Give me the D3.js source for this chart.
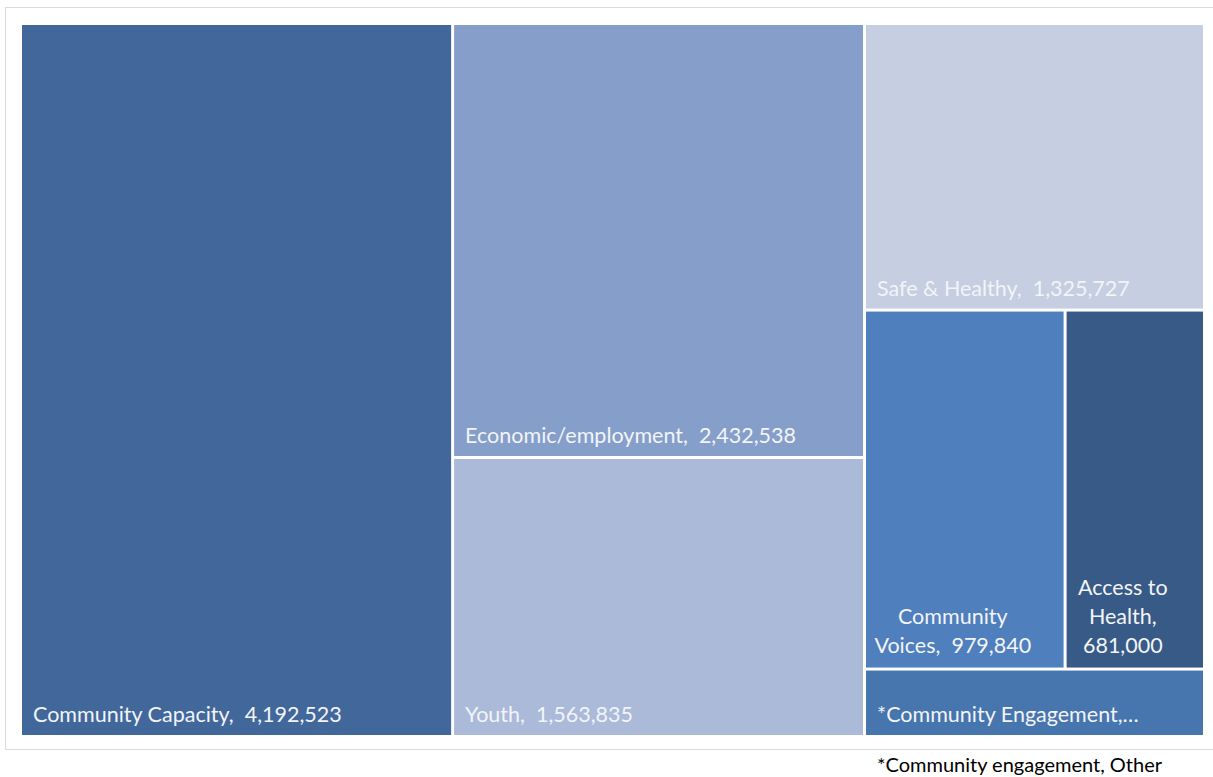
<!DOCTYPE html>
<meta charset="utf-8">
<head>
  <title>Funding treemap</title>
</head>

<style>
body { margin: 0; background: #fff; }
text {
  font-family: Lato, "Open Sans", sans-serif;
  font-size: 21.5px;
  white-space: pre;
}
.tile-label { fill: #f2f4f8; }
.note { fill: #000; font-size: 20px; }
</style>

<body>
  <svg width="1213" height="777">
    <rect class="frame" x="5.5" y="7.5" width="1220" height="742" fill="#fff" stroke="#dcdcdc"></rect>
    <g class="tiles"></g>
    <text class="note" x="877" y="772">*Community engagement, Other</text>
  </svg>

  <script src="https://cdnjs.cloudflare.com/ajax/libs/d3/7.8.5/d3.min.js"></script>
  <script>

  // categories and values (value for *Community Engagement is not printed, estimated from tile area)
  var ids     = ["root", "Community Capacity", "col2", "Economic/employment", "Youth",
                 "col3", "Safe & Healthy", "col3b", "Community Voices", "Access to Health",
                 "*Community Engagement"];
  var parents = ["", "root", "root", "col2", "col2",
                 "root", "col3", "col3", "col3b", "col3b",
                 "col3"];
  var values  = [0, 4192523, 0, 2432538, 1563835,
                 0, 1325727, 0, 979840, 681000,
                 312000];
  var colors  = {
    "Community Capacity": "#41679b",
    "Economic/employment": "#869fca",
    "Youth": "#abbad9",
    "Safe & Healthy": "#c6cee1",
    "Community Voices": "#4f7fbd",
    "Access to Health": "#385a86",
    "*Community Engagement": "#4775ae"
  };

  var rows = ids.map(function(id, i) { return {id: id, parent: parents[i], value: values[i]}; });

  var root = d3.stratify()
    .id(function(d) { return d.id; })
    .parentId(function(d) { return d.parent || null; })(rows);

  root.sum(function(d) { return d.value; });

  var treemapLayout = d3.treemap()
    .tile(d3.treemapSliceDice)
    .size([1181, 710])
    .paddingInner(3);

  treemapLayout(root);

  var fmt = d3.format(",");

  var nodes = d3.select("svg g.tiles")
    .attr("transform", "translate(22,25)")
    .selectAll("g")
    .data(root.leaves())
    .enter()
    .append("g")
    .attr("transform", function(d) { return "translate(" + [d.x0, d.y0] + ")"; });

  nodes.append("rect")
    .attr("width", function(d) { return d.x1 - d.x0; })
    .attr("height", function(d) { return d.y1 - d.y0; })
    .attr("fill", function(d) { return colors[d.id]; });

  var measure = d3.select("svg").append("text").attr("visibility", "hidden");
  function textWidth(s) { measure.text(s); return measure.node().getComputedTextLength(); }

  var lineH = 29;

  nodes.each(function(d) {
    var w = d.x1 - d.x0, h = d.y1 - d.y0;
    var maxW = w - 22;
    var full = d.id + ",  " + fmt(d.value);
    var words = full.split(" ");
    var g = d3.select(this);
    var lines;

    if (textWidth(full) <= maxW) {
      lines = [full];
    } else if (h > 120) {
      // wrap by words
      lines = [];
      var cur = null;
      words.forEach(function(word) {
        var test = cur === null ? word : cur + " " + word;
        if (cur !== null && word && textWidth(test) > maxW) { lines.push(cur.trim()); cur = word; }
        else cur = test;
      });
      if (cur) lines.push(cur.trim());
    } else {
      // drop whole words, then add an ellipsis
      var n = words.length;
      while (n > 1 && textWidth(words.slice(0, n).join(" ").trim() + "\u2026") > maxW) n--;
      lines = [words.slice(0, n).join(" ").trim() + "\u2026"];
    }

    var t = g.append("text").attr("class", "tile-label");
    if (lines.length === 1) {
      t.append("tspan").attr("x", 11).attr("y", h - 13).text(lines[0]);
    } else {
      var bottom = h - 15 - (lines.length - 1) * lineH;
      var cx = w / 2 - 12;
      lines.forEach(function(l, i) {
        t.append("tspan")
          .attr("x", cx)
          .attr("y", bottom + i * lineH)
          .attr("text-anchor", "middle")
          .text(l);
      });
    }
  });

  measure.remove();

  </script>
</body>
</html>
